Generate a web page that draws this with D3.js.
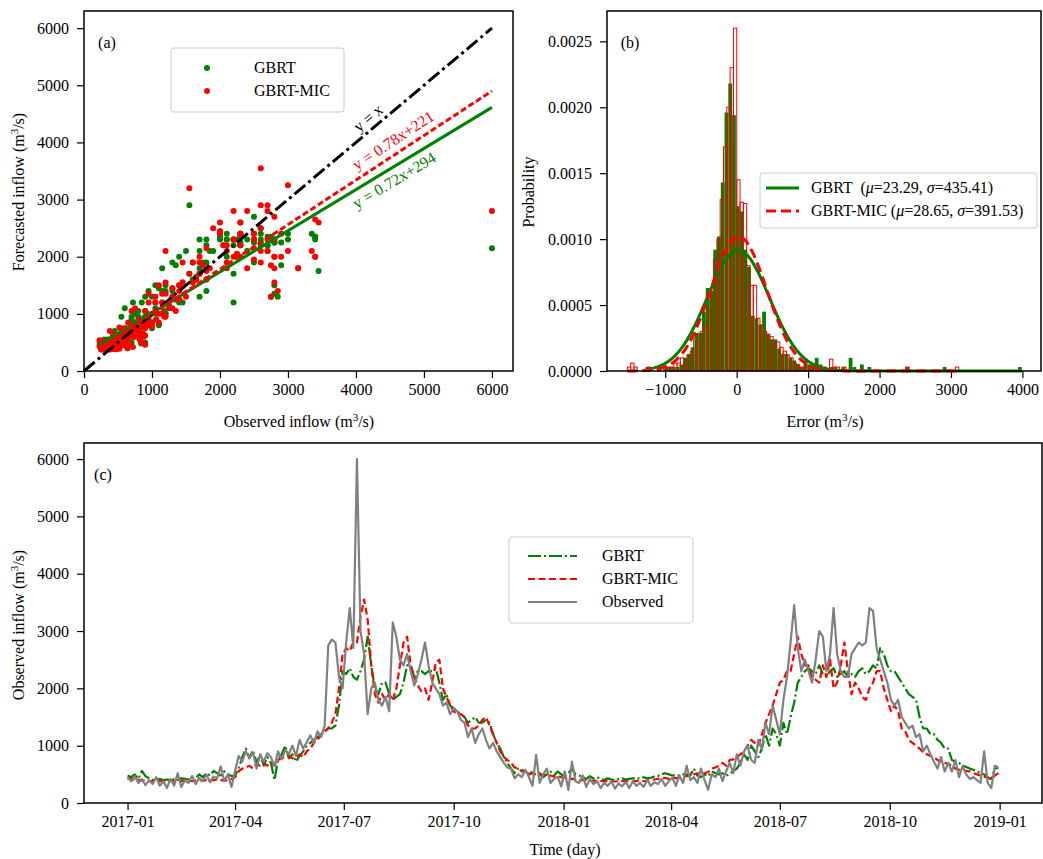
<!DOCTYPE html>
<html>
<head>
<meta charset="utf-8">
<script src="https://cdn.jsdelivr.net/npm/d3@7"></script>
<style>
  body { margin: 0; background: #fff; }
  svg { font-family: "Liberation Serif", "Times New Roman", serif; }
</style>
</head>
<body>
<svg id="fig" width="1043" height="859"></svg>
<script>
// daily inflow, read every 3rd day from 2017-01-01
var startDate = new Date(2017, 0, 1)
var dayStep = 3

var observed = [
  450,380,470,350,420,310,400,330,450,300,
  380,260,420,300,520,280,400,350,470,330,
  440,380,500,360,460,430,640,380,500,280,
  560,820,720,900,780,880,600,850,720,870,
  800,640,900,760,930,850,1000,820,1100,950,
  1060,1180,1050,1250,1150,1350,2750,2850,2800,2200,
  2000,2800,3400,2700,6000,3000,2600,1550,2000,2100,
  1800,1700,1850,1600,3150,2900,2500,2400,2600,2300,
  2050,2250,2500,2800,2400,2100,2000,1900,1700,1750,
  1550,1650,1600,1450,1400,1150,1300,1050,1200,1300,
  1100,950,1050,900,800,700,620,600,430,500,
  450,580,450,300,840,350,500,600,350,420,
  460,290,550,230,720,380,350,480,280,420,
  330,380,260,350,300,380,250,340,290,370,
  260,380,300,350,280,400,300,360,330,420,
  300,380,440,300,480,350,650,400,450,350,
  600,400,230,500,450,600,380,550,700,520,
  850,650,900,1000,750,700,1100,950,1400,1200,
  1700,1450,1200,1800,2200,2800,3450,2700,2300,2500,
  2300,2100,2500,3000,2900,2300,2600,3400,2600,2300,
  2200,2200,2600,2700,2800,2750,2800,3400,3350,2700,
  2500,2300,2100,1800,1700,1800,1500,1400,1300,1350,
  1150,1200,900,1000,850,720,600,800,550,700,
  550,750,450,650,500,420,450,400,350,900,
  350,260,650,620
]

var gbrt = [
  480,450,500,420,560,470,430,410,400,420,
  400,410,390,420,400,430,420,410,440,430,
  500,450,520,480,560,520,480,550,500,470,
  480,600,800,950,780,920,700,850,650,800,
  700,400,760,850,1000,780,850,720,820,900,
  1000,1050,1100,1150,1200,1250,1300,1300,1350,1700,
  2300,2250,2350,2200,2150,2300,2500,2900,2400,2000,
  1900,2100,2100,1900,1800,1850,1900,2100,2400,2400,
  2200,2300,2300,2250,2300,2300,2350,2100,1800,1900,
  1700,1650,1600,1550,1500,1400,1450,1500,1400,1400,
  1450,1400,1200,1050,950,800,700,600,520,600,
  580,550,500,550,480,520,450,500,550,480,
  550,500,450,520,600,500,480,450,420,470,
  430,450,420,400,430,410,400,420,430,410,
  420,430,440,420,450,430,440,460,470,500,
  520,500,480,490,480,500,500,480,600,480,
  450,500,470,550,520,500,520,480,500,560,
  600,700,850,750,1000,900,800,950,1200,1000,
  1300,1200,1000,1400,1200,1500,1750,2100,2200,2300,
  2350,2300,2250,2400,2250,2200,2300,2350,2200,2250,
  2300,2200,2250,2200,2300,2350,2250,2300,2400,2350,
  2700,2600,2400,2300,2300,2200,2100,2000,1900,1850,
  1800,1500,1300,1300,1200,1200,1100,1050,950,950,
  750,720,700,650,630,600,580,550,520,500,
  450,420,600,620
]

var gbrtMic = [
  430,420,400,410,390,400,380,380,390,380,
  380,380,390,380,390,380,400,390,380,390,
  400,390,400,390,400,410,400,390,400,420,
  450,550,600,620,650,600,680,650,700,650,
  700,650,750,780,800,820,780,800,850,800,
  900,950,1050,1100,1200,1250,1300,1400,1550,2000,
  2600,2700,2650,2800,2800,3250,3550,3200,2400,1900,
  1750,1900,1800,1900,1800,2000,2400,2800,2900,2400,
  2200,2050,1950,2000,1800,2100,2450,2500,2000,1850,
  1700,1600,1550,1550,1500,1350,1300,1300,1350,1450,
  1500,1350,1200,1050,900,800,750,700,620,600,
  550,550,500,520,500,480,500,470,480,460,
  470,450,440,430,420,410,400,400,400,390,
  390,385,380,380,380,380,375,380,380,380,
  380,380,385,390,380,390,400,410,420,430,
  440,420,450,430,450,460,470,480,500,520,
  500,520,540,600,620,650,700,650,750,760,
  800,850,900,1000,1100,1050,1000,1200,1400,1550,
  1700,1900,2100,2150,2300,2300,2600,2900,2600,2400,
  2400,2200,2150,2100,2400,2200,2500,2000,2100,2400,
  2800,2300,1900,2100,2000,1850,1800,2000,2100,2300,
  2300,2000,1800,1600,1700,1600,1300,1250,1100,1050,
  1000,950,880,850,820,800,750,720,700,680,
  650,600,580,570,560,550,520,500,480,460,
  440,420,480,520
]

// linear fits shown in panel (a)
var fitSlope = [0.72, 0.78]
var fitIntercept = [294, 221]
var fitText = ["y = 0.72x+294", "y = 0.78x+221"]

// error histograms, 100 bins each (density)
var greenRange = [-1275, 3990]
var greenDensity = [
  0.00003,0,0,0.00003,0,0.00003,0.00003,0.00003,0.00003,0.00005,
  0.0001,0.00013,0.00018,0.00029,0.00029,0.00045,0.00063,0.00061,0.00092,0.00102,
  0.00143,0.00196,0.00218,0.00194,0.00125,0.00121,0.00092,0.00079,0.00042,0.0004,
  0.00035,0.00045,0.00028,0.00024,0.00024,0.00017,0.00013,0.00013,0.0001,0.00008,
  0.00005,0.00003,0.00008,0.00005,0.00005,0.0001,0.00005,0.00003,0,0.00003,
  0.00003,0,0.00003,0,0.0001,0.00003,0,0.00005,0,0.00003,
  0,0,0,0,0,0,0,0,0,0.00003,
  0,0,0,0,0,0,0,0,0,0.00003,
  0,0,0,0,0,0,0,0,0,0,
  0,0,0,0,0,0,0,0,0,0.00003
]
var redRange = [-1530, 3110]
var redDensity = [
  0.00003,0.00006,0.00003,0,0,0,0.00003,0,0,0.00003,
  0,0.00003,0.00003,0.00003,0.00006,0.00006,0.0001,0.00006,0.00012,0.00015,
  0.00028,0.00022,0.0003,0.00035,0.00046,0.0006,0.00085,0.001,0.0013,0.0017,
  0.002,0.0023,0.0026,0.00145,0.00128,0.00127,0.0008,0.00065,0.00065,0.0004,
  0.00035,0.0003,0.00028,0.00026,0.0002,0.00022,0.00018,0.00015,0.00012,0.0001,
  0.00006,0.00005,0.00003,0.00003,0.00003,0.00003,0,0.00003,0,0.00003,
  0,0.00009,0.00003,0.00003,0,0.00003,0,0,0,0,
  0,0,0,0,0,0,0,0,0,0,
  0,0,0,0,0.00003,0,0,0,0,0,
  0,0,0,0,0,0,0,0,0,0.00003
]
var errMu = [23.29, 28.65]
var errSigma = [435.41, 391.53]

var dates = observed.map(function(d, i) { return d3.timeDay.offset(startDate, i * dayStep) })

var svg = d3.select("#fig")
var serif = '"Liberation Serif", "Times New Roman", serif'
var fs = 16

function drawAxis(g, axis) {
  g.call(axis)
  g.attr("font-family", serif).attr("font-size", fs)
  g.select(".domain").remove()
  g.selectAll(".tick line").attr("stroke", "#000").attr("stroke-width", 1.2)
  g.selectAll(".tick text").attr("fill", "#000")
}

function frame(x0, y0, x1, y1) {
  svg.append("rect")
    .attr("x", x0).attr("y", y0)
    .attr("width", x1 - x0).attr("height", y1 - y0)
    .attr("fill", "none").attr("stroke", "#000").attr("stroke-width", 1.5)
}

function unitText(t, prefix) {
  t.append("tspan").text(prefix + " (m")
  t.append("tspan").attr("dy", -6).attr("font-size", 11).text("3")
  t.append("tspan").attr("dy", 6).text("/s)")
}

function legendBox(x0, y0, x1, y1) {
  svg.append("rect")
    .attr("x", x0).attr("y", y0).attr("width", x1 - x0).attr("height", y1 - y0)
    .attr("rx", 3).attr("fill", "#fff").attr("fill-opacity", 0.8)
    .attr("stroke", "#ccc").attr("stroke-width", 1)
}

// ---------------- (a) scatter ----------------
var xa = d3.scaleLinear().domain([0, 6310]).range([84, 513])
var ya = d3.scaleLinear().domain([0, 6300]).range([371, 11])
var flowTicks = [0, 1000, 2000, 3000, 4000, 5000, 6000]

drawAxis(svg.append("g").attr("transform", "translate(0,371)"),
  d3.axisBottom(xa).tickValues(flowTicks).tickSize(7).tickPadding(6).tickFormat(d3.format("d")))
drawAxis(svg.append("g").attr("transform", "translate(84,0)"),
  d3.axisLeft(ya).tickValues(flowTicks).tickSize(7).tickPadding(8).tickFormat(d3.format("d")))

var pa = svg.append("g")
var scatterSeries = [[gbrt, "green"], [gbrtMic, "red"]]
scatterSeries.forEach(function(s) {
  pa.append("g").selectAll("circle")
    .data(observed)
    .enter()
    .append("circle")
    .attr("cx", function(d) { return xa(d) })
    .attr("cy", function(d, i) { return ya(s[0][i]) })
    .attr("r", 3)
    .attr("fill", s[1])
})

var obsExtent = d3.extent(observed)
pa.append("line")
  .attr("x1", xa(0)).attr("y1", ya(0)).attr("x2", xa(6000)).attr("y2", ya(6000))
  .attr("stroke", "#000").attr("stroke-width", 3).attr("stroke-dasharray", "14,4,3,4")
var fitColor = ["green", "red"]
var fitDash = [null, "6,3"]
fitSlope.forEach(function(m, k) {
  pa.append("line")
    .attr("x1", xa(obsExtent[0])).attr("y1", ya(m * obsExtent[0] + fitIntercept[k]))
    .attr("x2", xa(obsExtent[1])).attr("y2", ya(m * obsExtent[1] + fitIntercept[k]))
    .attr("stroke", fitColor[k]).attr("stroke-width", 3)
    .attr("stroke-dasharray", fitDash[k])
})

function slopeAngle(m) {
  return Math.atan2(ya(0) - ya(m * 1000), xa(1000) - xa(0)) * 180 / Math.PI
}
// annotation anchors (data units)
var fitLabelAt = [[4560, 3340], [4545, 4040]]
pa.append("text")
  .attr("transform", "translate(" + xa(4177) + "," + ya(4430) + ") rotate(" + (-slopeAngle(1)) + ")")
  .attr("text-anchor", "middle").attr("dy", "0.35em").attr("font-size", fs)
  .text("y = x")
fitText.forEach(function(t, k) {
  pa.append("text")
    .attr("transform", "translate(" + xa(fitLabelAt[k][0]) + "," + ya(fitLabelAt[k][1]) + ") rotate(" + (-slopeAngle(fitSlope[k])) + ")")
    .attr("text-anchor", "middle").attr("dy", "0.35em").attr("font-size", fs)
    .attr("fill", fitColor[k])
    .text(t)
})

legendBox(171, 48, 344, 112)
var legA = ["GBRT", "GBRT-MIC"]
legA.forEach(function(t, k) {
  svg.append("circle").attr("cx", 207).attr("cy", 68 + k * 23).attr("r", 3).attr("fill", fitColor[k])
  svg.append("text").attr("x", 254).attr("y", 73 + k * 23).attr("font-size", fs).text(t)
})

svg.append("text").attr("x", 107).attr("y", 48).attr("text-anchor", "middle").attr("font-size", fs).text("(a)")
unitText(svg.append("text").attr("x", 299).attr("y", 427).attr("text-anchor", "middle").attr("font-size", fs), "Observed inflow")
unitText(svg.append("text").attr("transform", "translate(24,192) rotate(-90)").attr("text-anchor", "middle").attr("font-size", fs), "Forecasted inflow")
frame(84, 11, 513, 371)

// ---------------- (b) error histogram ----------------
var xb = d3.scaleLinear().domain([-1815, 4260]).range([607, 1041])
var yb = d3.scaleLinear().domain([0, 0.00273]).range([371, 11])

drawAxis(svg.append("g").attr("transform", "translate(0,371)"),
  d3.axisBottom(xb).tickValues([-1000, 0, 1000, 2000, 3000, 4000]).tickSize(7).tickPadding(6).tickFormat(d3.format("d")))
drawAxis(svg.append("g").attr("transform", "translate(607,0)"),
  d3.axisLeft(yb).tickValues([0, 0.0005, 0.001, 0.0015, 0.002, 0.0025]).tickSize(7).tickPadding(8).tickFormat(d3.format(".4f")))

var pb = svg.append("g")
function histBars(range, dens, filled, color) {
  var w = (range[1] - range[0]) / dens.length
  var bins = dens.map(function(d, i) { return { x0: range[0] + i * w, d: d } })
    .filter(function(b) { return b.d > 0 })
  var bars = pb.append("g").selectAll("rect")
    .data(bins)
    .enter()
    .append("rect")
    .attr("x", function(b) { return xb(b.x0) })
    .attr("width", xb(w) - xb(0))
    .attr("y", function(b) { return yb(b.d) })
    .attr("height", function(b) { return yb(0) - yb(b.d) })
  if (filled) bars.attr("fill", color)
  else bars.attr("fill", "none").attr("stroke", color).attr("stroke-width", 1)
}
histBars(greenRange, greenDensity, true, "green")
histBars(redRange, redDensity, false, "red")

function pdfCurve(range, n, mu, sigma) {
  var w = (range[1] - range[0]) / n
  return d3.range(n + 1).map(function(i) {
    var x = range[0] + i * w
    return [x, Math.exp(-0.5 * Math.pow((x - mu) / sigma, 2)) / (sigma * Math.sqrt(2 * Math.PI))]
  })
}
var curveLine = d3.line().x(function(p) { return xb(p[0]) }).y(function(p) { return yb(p[1]) })
pb.append("path").attr("d", curveLine(pdfCurve(greenRange, greenDensity.length, errMu[0], errSigma[0])))
  .attr("fill", "none").attr("stroke", "green").attr("stroke-width", 3)
pb.append("path").attr("d", curveLine(pdfCurve(redRange, redDensity.length, errMu[1], errSigma[1])))
  .attr("fill", "none").attr("stroke", "red").attr("stroke-width", 3).attr("stroke-dasharray", "10,5")

legendBox(760, 173, 1037, 228)
var legB = [["GBRT  (", "green", null], ["GBRT-MIC (", "red", "10,5"]]
legB.forEach(function(l, k) {
  var y = 188 + k * 23
  svg.append("line").attr("x1", 766).attr("x2", 799).attr("y1", y).attr("y2", y)
    .attr("stroke", l[1]).attr("stroke-width", 3).attr("stroke-dasharray", l[2])
  var t = svg.append("text").attr("x", 811).attr("y", y + 5).attr("font-size", fs).style("white-space", "pre")
  t.append("tspan").text(l[0])
  t.append("tspan").attr("font-style", "italic").text("\u03bc")
  t.append("tspan").text("=" + errMu[k].toFixed(2) + ", ")
  t.append("tspan").attr("font-style", "italic").text("\u03c3")
  t.append("tspan").text("=" + errSigma[k].toFixed(2) + ")")
})

svg.append("text").attr("x", 630).attr("y", 48).attr("text-anchor", "middle").attr("font-size", fs).text("(b)")
unitText(svg.append("text").attr("x", 825).attr("y", 427).attr("text-anchor", "middle").attr("font-size", fs), "Error")
svg.append("text").attr("transform", "translate(534,192) rotate(-90)").attr("text-anchor", "middle").attr("font-size", fs).text("Probability")
frame(607, 11, 1041, 371)

// ---------------- (c) time series ----------------
var firstDate = dates[0], lastDate = dates[dates.length - 1]
var padMs = (lastDate - firstDate) * 0.05
var xc = d3.scaleTime()
  .domain([new Date(+firstDate - padMs), new Date(+lastDate + padMs)])
  .range([84, 1042])
var yc = d3.scaleLinear().domain([0, 6280]).range([803, 443])

drawAxis(svg.append("g").attr("transform", "translate(0,803)"),
  d3.axisBottom(xc).ticks(d3.timeMonth.every(3)).tickSize(7).tickPadding(6).tickFormat(d3.timeFormat("%Y-%m")))
drawAxis(svg.append("g").attr("transform", "translate(84,0)"),
  d3.axisLeft(yc).tickValues(flowTicks).tickSize(7).tickPadding(8).tickFormat(d3.format("d")))

var pc = svg.append("g")
var tsSeries = [
  { name: "GBRT", values: gbrt, color: "green", dash: "13,3,2,3" },
  { name: "GBRT-MIC", values: gbrtMic, color: "red", dash: "7,3.5" },
  { name: "Observed", values: observed, color: "gray", dash: null }
]
tsSeries.forEach(function(s) {
  var line = d3.line()
    .x(function(d, i) { return xc(dates[i]) })
    .y(function(d) { return yc(d) })
  pc.append("path").attr("d", line(s.values))
    .attr("fill", "none").attr("stroke", s.color).attr("stroke-width", 2.2)
    .attr("stroke-linejoin", "round")
    .attr("stroke-dasharray", s.dash)
})

legendBox(509, 537, 693, 623)
tsSeries.forEach(function(s, k) {
  var y = 556 + k * 23
  svg.append("line").attr("x1", 528).attr("x2", 577).attr("y1", y).attr("y2", y)
    .attr("stroke", s.color).attr("stroke-width", 2.2).attr("stroke-dasharray", s.dash)
  svg.append("text").attr("x", 602).attr("y", y + 5).attr("font-size", fs).text(s.name)
})

svg.append("text").attr("x", 103).attr("y", 480).attr("text-anchor", "middle").attr("font-size", fs).text("(c)")
svg.append("text").attr("x", 565).attr("y", 855).attr("text-anchor", "middle").attr("font-size", fs).text("Time (day)")
unitText(svg.append("text").attr("transform", "translate(24,625) rotate(-90)").attr("text-anchor", "middle").attr("font-size", fs), "Observed inflow")
frame(84, 443, 1042, 803)
</script>
</body>
</html>
